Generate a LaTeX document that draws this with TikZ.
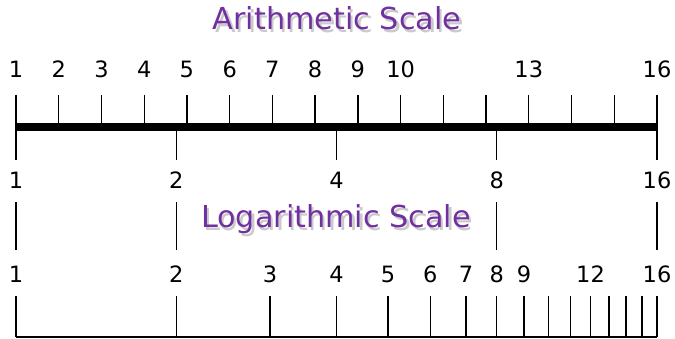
\documentclass[tikz,border=0pt]{standalone}
\usepackage{fontspec}
\setmainfont{DejaVu Sans}
\usepackage{xcolor}
\usepackage{tikz}
\usetikzlibrary{positioning}
\definecolor{scalepurple}{HTML}{7030A0}
\definecolor{shadowgray}{HTML}{CACACA}

\begin{document}
\begin{tikzpicture}[x=0.025cm, y=-0.025cm]
\tikzset{
  num/.style={font=\fontsize{16}{19}\selectfont, anchor=base, inner sep=0pt},
  heading/.style={font=\fontsize{21.5}{25}\selectfont, anchor=base, inner sep=0pt},
  tick/.style={line width=0.9pt}
}
\useasboundingbox (0,0) rectangle (675,339);

% Arithmetic heading with a soft shadow
\node[heading, text=shadowgray] (arithshadow) at (339.5,33) {Arithmetic Scale};
\node[heading, text=scalepurple] (arith) at (337,30) {Arithmetic Scale};

% Arithmetic labels
\node[num] (a1) at (16,78) {1};
\node[num] (a2) at (58.7,78) {2};
\node[num] (a3) at (101.5,78) {3};
\node[num] (a4) at (144.2,78) {4};
\node[num] (a5) at (186.9,78) {5};
\node[num] (a6) at (229.7,78) {6};
\node[num] (a7) at (272.4,78) {7};
\node[num] (a8) at (315.1,78) {8};
\node[num] (a9) at (357.9,78) {9};
\node[num] (a10) at (400.6,78) {10};
\node[num] (a13) at (528.8,78) {13};
\node[num] (a16) at (657,78) {16};

% Arithmetic ticks above the bar
\draw[tick] (16,95) -- (16,127) (58.7,95) -- (58.7,127) (101.5,95) -- (101.5,127)
  (144.2,95) -- (144.2,127) (186.9,95) -- (186.9,127) (229.7,95) -- (229.7,127)
  (272.4,95) -- (272.4,127) (315.1,95) -- (315.1,127) (357.9,95) -- (357.9,127)
  (400.6,95) -- (400.6,127) (443.3,95) -- (443.3,127) (486.1,95) -- (486.1,127)
  (528.8,95) -- (528.8,127) (571.5,95) -- (571.5,127) (614.3,95) -- (614.3,127)
  (657,95) -- (657,127);

% Log ticks below the bar
\draw[tick] (16,127) -- (16,160) (176.25,127) -- (176.25,160) (336.5,127) -- (336.5,160)
  (496.75,127) -- (496.75,160) (657,127) -- (657,160);

% Thick bar
\draw[line width=5.6pt] (16,127) -- (657,127);

% Doubling labels
\node[num] (d1) at (16,189) {1};
\node[num] (d2) at (176.25,189) {2};
\node[num] (d4) at (336.5,189) {4};
\node[num] (d8) at (496.75,189) {8};
\node[num] (d16) at (657,189) {16};

% Connecting ticks
\draw[tick] (16,202) -- (16,250) (176.25,202) -- (176.25,250)
  (496.75,202) -- (496.75,250) (657,202) -- (657,250);

% Logarithmic heading with a soft shadow
\node[heading, text=shadowgray] (logshadow) at (338.5,231) {Logarithmic Scale};
\node[heading, text=scalepurple] (logt) at (336,228) {Logarithmic Scale};

% Logarithmic labels
\node[num] (g1) at (16,282) {1};
\node[num] (g2) at (176.25,282) {2};
\node[num] (g3) at (270,282) {3};
\node[num] (g4) at (336.5,282) {4};
\node[num] (g5) at (388.1,282) {5};
\node[num] (g6) at (430.2,282) {6};
\node[num] (g7) at (465.9,282) {7};
\node[num] (g8) at (496.75,282) {8};
\node[num] (g9) at (524,282) {9};
\node[num] (g12) at (590.5,282) {12};
\node[num] (g16) at (657,282) {16};

% Logarithmic ticks
\draw[tick] (16,296) -- (16,337) (176.25,296) -- (176.25,337) (270,296) -- (270,337)
  (336.5,296) -- (336.5,337) (388.1,296) -- (388.1,337) (430.2,296) -- (430.2,337)
  (465.9,296) -- (465.9,337) (496.75,296) -- (496.75,337) (524,296) -- (524,337)
  (548.3,296) -- (548.3,337) (570.4,296) -- (570.4,337) (590.5,296) -- (590.5,337)
  (609,296) -- (609,337) (626.1,296) -- (626.1,337) (642.1,296) -- (642.1,337)
  (657,296) -- (657,337);

% Baseline
\draw[tick] (15.7,337) -- (657.3,337);
\end{tikzpicture}
\end{document}
